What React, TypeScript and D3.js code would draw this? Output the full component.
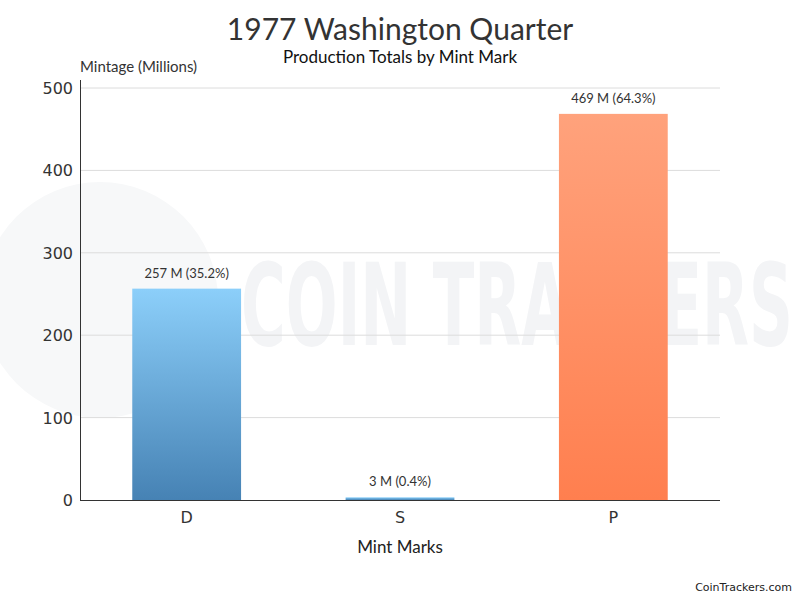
import React from "react";
import * as d3 from "d3";

const categories = ["D", "S", "P"];
const mintages = [256.5, 3.2, 468.6];
const yTicks = [0, 100, 200, 300, 400, 500];
const gradTop = ["#8ccffa", "#87CEFA", "#ffa27c"];
const gradBottom = ["#4682b4", "#4682B4", "#ff7f4f"];

const W = 800, H = 600;
const M = { left: 80, right: 720, top: 88, bottom: 500 };
const FONT = "Lato, 'Open Sans', sans-serif";
const TICKFONT = "'DejaVu Sans', Verdana, sans-serif";

export default function App() {
  const x = d3.scaleBand<string>().domain(categories).range([M.left, M.right]).paddingInner(0.49).paddingOuter(0.245);
  const y = d3.scaleLinear().domain([0, 500]).range([M.bottom, M.top]);
  const total = d3.sum(mintages);
  return (
    <svg width={W} height={H} style={{ position: "absolute", left: 0, top: 0, background: "#fff" }}>
      <defs>
        {categories.map((c, i) => (
          <linearGradient key={c} id={`g${i}`} x1="0" y1="0" x2="0" y2="1">
            <stop offset="0%" stopColor={gradTop[i]} />
            <stop offset="100%" stopColor={gradBottom[i]} />
          </linearGradient>
        ))}
      </defs>
      {/* watermark */}
      <g>
        <circle cx={100} cy={300} r={118} fill="#f7f8f9" />
        <g transform="translate(517,345) scale(0.535,1)">
          <text x={0} y={0} textAnchor="middle" fontFamily="'DejaVu Sans', sans-serif" fontWeight="bold" fontSize={114} fill="#f3f4f6">COIN TRACKERS</text>
        </g>
      </g>
      {/* gridlines */}
      {yTicks.filter(t => t > 0).map(t => (
        <line key={t} x1={M.left} x2={M.right} y1={y(t)} y2={y(t)} stroke="#dcdcdc" strokeWidth={1} />
      ))}
      {/* bars */}
      {categories.map((c, i) => (
        <rect key={c} x={x(c)} width={x.bandwidth()} y={y(mintages[i])} height={y(0) - y(mintages[i])} fill={`url(#g${i})`} />
      ))}
      {/* data labels */}
      {categories.map((c, i) => (
        <text key={c} x={(x(c) as number) + x.bandwidth() / 2} y={y(mintages[i]) - 11} textAnchor="middle" fontFamily={FONT} fontSize={13} fill="#333">
          {`${Math.round(mintages[i])} M (${((mintages[i] / total) * 100).toFixed(1)}%)`}
        </text>
      ))}
      {/* axes */}
      <line x1={M.left + 0.5} x2={M.left + 0.5} y1={80} y2={M.bottom} stroke="#333" strokeWidth={1} />
      <line x1={M.left} x2={M.right} y1={M.bottom + 0.5} y2={M.bottom + 0.5} stroke="#333" strokeWidth={1} />
      {yTicks.map(t => (
        <text key={t} x={73} y={y(t) + 6} textAnchor="end" fontFamily={TICKFONT} fontSize={16} fill="#333">{t}</text>
      ))}
      {categories.map(c => (
        <text key={c} x={(x(c) as number) + x.bandwidth() / 2} y={523} textAnchor="middle" fontFamily={TICKFONT} fontSize={16} fill="#333">{c}</text>
      ))}
      {/* titles */}
      <text x={400} y={40} textAnchor="middle" fontFamily={FONT} fontSize={30} fill="#333">1977 Washington Quarter</text>
      <text x={400} y={63} textAnchor="middle" fontFamily={FONT} fontSize={17} fill="#111">Production Totals by Mint Mark</text>
      <text x={80} y={72} fontFamily={FONT} fontSize={15} fill="#333">Mintage (Millions)</text>
      <text x={400} y={553} textAnchor="middle" fontFamily={FONT} fontSize={17} fill="#222">Mint Marks</text>
      <text x={792} y={591} textAnchor="end" fontFamily={TICKFONT} fontSize={11} fill="#222">CoinTrackers.com</text>
    </svg>
  );
}
